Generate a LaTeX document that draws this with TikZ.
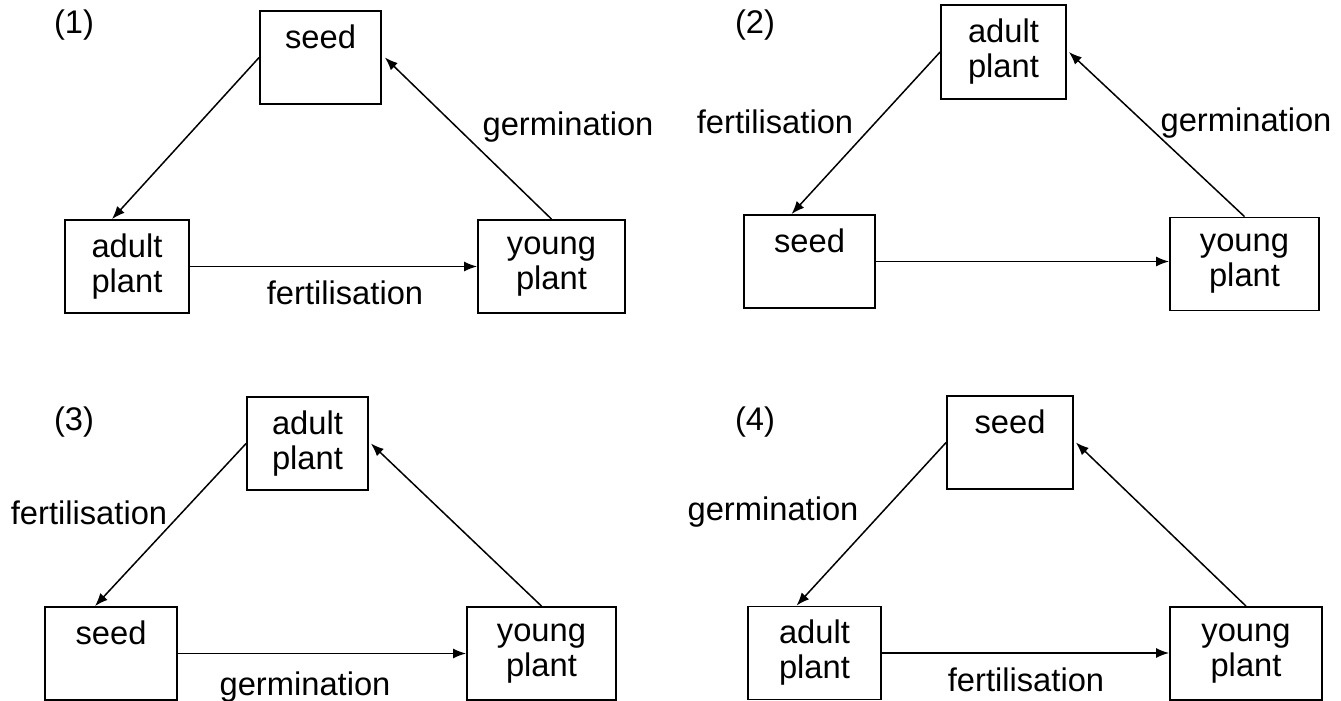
\documentclass[tikz,border=0pt]{standalone}
\usepackage{fontspec}
\setmainfont{Liberation Sans}
\usetikzlibrary{arrows.meta,positioning}
\newcommand{\cyclefont}{\fontsize{32.7pt}{35pt}\selectfont}
\tikzset{
  stage/.style={draw=black, line width=1.8pt, inner sep=0pt, minimum height=93pt, align=center, font=\cyclefont},
  tag/.style={inner sep=0pt, font=\cyclefont},
  flow/.style={->, line width=1.5pt},
}

\begin{document}
\begin{tikzpicture}[x=1pt,y=-1pt,>={Latex[length=13pt,width=10pt]}]
    \useasboundingbox (0,0) rectangle (1341,701);

    % (1)
    \node[tag] (tagA) at (74,25) {(1)};
    \node[stage,minimum width=121pt] (seedA) at (320.5,57.5) {seed\\\phantom{plant}};
    \node[stage,minimum width=124pt] (adultA) at (127,266.5) {adult\\plant};
    \node[stage,minimum width=147pt] (youngA) at (551.5,266.5) {young\\plant};
    \node[tag] (germA) at (568,127) {germination};
    \node[tag] (fertA) at (345,293) {fertilisation};
    \path[flow] (seedA.west) edge ([xshift=-15pt]adultA.north)
                (youngA.north) edge ([xshift=3pt]seedA.east)
                (adultA.east) edge (youngA.west);

    % (2)
    \node[tag] (tagB) at (755,25) {(2)};
    \node[stage,minimum width=125pt,minimum height=94pt] (adultB) at (1003.5,52) {adult\\plant};
    \node[stage,minimum width=131pt] (seedB) at (809.5,261.5) {seed\\\phantom{plant}};
    \node[stage,minimum width=149pt] (youngB) at (1244.5,264) {young\\plant};
    \node[tag] (fertB) at (775,122) {fertilisation};
    \node[tag] (germB) at (1246,123) {germination};
    \path[flow] (adultB.west) edge ([xshift=-18pt]seedB.north)
                (youngB.north) edge ([xshift=2pt]adultB.east)
                (seedB.east) edge (seedB.east -| youngB.west);

    % (3)
    \node[tag] (tagC) at (74,422) {(3)};
    \node[stage,minimum width=121pt] (adultC) at (307.5,443.5) {adult\\plant};
    \node[stage,minimum width=132pt] (seedC) at (111,653.5) {seed\\\phantom{plant}};
    \node[stage,minimum width=149pt] (youngC) at (541.5,653.5) {young\\plant};
    \node[tag] (fertC) at (89,513) {fertilisation};
    \node[tag] (germC) at (305,687) {germination};
    \path[flow] (adultC.west) edge ([xshift=-16pt]seedC.north)
                (youngC.north) edge ([xshift=2pt]adultC.east)
                (seedC.east) edge (youngC.west);

    % (4)
    \node[tag] (tagD) at (755,422) {(4)};
    \node[stage,minimum width=126pt] (seedD) at (1010,442.5) {seed\\\phantom{plant}};
    \node[stage,minimum width=133pt] (adultD) at (814.5,653) {adult\\plant};
    \node[stage,minimum width=152pt] (youngD) at (1246,653.5) {young\\plant};
    \node[tag] (germD) at (773,512) {germination};
    \node[tag] (fertD) at (1026,680) {fertilisation};
    \path[flow] (seedD.west) edge ([xshift=-18pt]adultD.north)
                (youngD.north) edge ([xshift=2pt]seedD.east)
                (adultD.east) edge (adultD.east -| youngD.west);
\end{tikzpicture}
\end{document}
